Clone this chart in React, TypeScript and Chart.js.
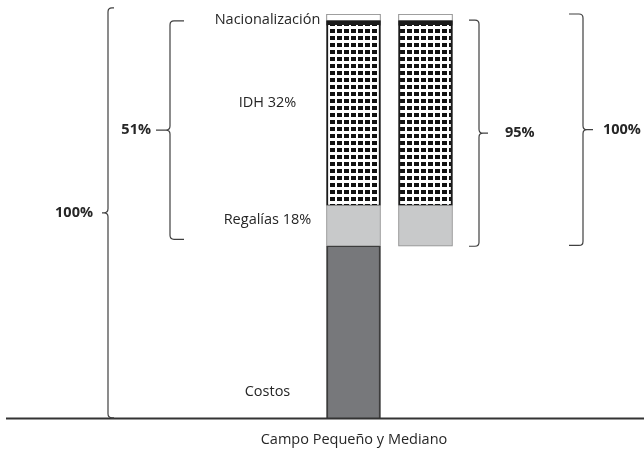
import React, { useEffect, useRef } from 'react';
import { Chart, registerables } from 'chart.js';

Chart.register(...registerables);

// ---- data ----
const categories = ['Campo', 'Estado'];
const costos = [42.6, null];
const baseEstado = [null, 42.6];
const regalias = [10.1, 10.1];
const idh = [44.6, 44.6];
const nacionalizacion = [1.0, 1.0];
const resto = [1.7, 1.7];

const segmentLabels = ['Nacionalización', 'IDH 32%', 'Regalías 18%', 'Costos'];
const segmentLabelY = [98.5, 78, 49, 6.7];

const braceLabels = ['100%', '51%', '95%', '100%'];
const braceTop = [101.5, 98.3, 98.5, 100];
const braceBottom = [0.2, 44.3, 42.6, 42.8];

const xTitle = 'Campo Pequeño y Mediano';

// ---- layout / style (not data) ----
const FONT = '"Open Sans", sans-serif';
const braceGeom = [
  { x: 108, hook: 6, tick: 6, side: 'left', labelX: 93 },
  { x: 170, hook: 14, tick: 14, side: 'left', labelX: 151 },
  { x: 479, hook: 10, tick: 9, side: 'right', labelX: 505 },
  { x: 583, hook: 14, tick: 10, side: 'right', labelX: 603 },
];

function makePattern(ctx: CanvasRenderingContext2D) {
  const c = document.createElement('canvas');
  c.width = 7;
  c.height = 7;
  const p = c.getContext('2d')!;
  p.fillStyle = '#ffffff';
  p.fillRect(0, 0, 7, 7);
  p.fillStyle = '#111111';
  p.fillRect(1, 1, 5, 4);
  return ctx.createPattern(c, 'repeat');
}

function drawBrace(
  ctx: CanvasRenderingContext2D,
  x: number,
  yTop: number,
  yBot: number,
  side: string,
  hook: number,
  tick: number
) {
  const dir = side === 'left' ? 1 : -1;
  const r = 4;
  const yMid = (yTop + yBot) / 2;
  ctx.beginPath();
  ctx.moveTo(x + dir * hook, yTop);
  ctx.lineTo(x + dir * r, yTop);
  ctx.quadraticCurveTo(x, yTop, x, yTop + r);
  ctx.lineTo(x, yMid - r);
  ctx.quadraticCurveTo(x, yMid, x - dir * r, yMid);
  ctx.lineTo(x - dir * tick, yMid);
  ctx.moveTo(x - dir * r, yMid);
  ctx.quadraticCurveTo(x, yMid, x, yMid + r);
  ctx.lineTo(x, yBot - r);
  ctx.quadraticCurveTo(x, yBot, x + dir * r, yBot);
  ctx.lineTo(x + dir * hook, yBot);
  ctx.stroke();
}

const annotations = {
  id: 'annotations',
  afterDatasetsDraw(chart: any) {
    const { ctx, chartArea, scales } = chart;
    const xs = scales.x;
    const ys = scales.y;
    ctx.save();
    // baseline
    ctx.strokeStyle = '#333333';
    ctx.lineWidth = 2;
    ctx.beginPath();
    ctx.moveTo(6, chartArea.bottom);
    ctx.lineTo(chart.width, chartArea.bottom);
    ctx.stroke();

    // segment labels
    const barCenter = xs.getPixelForValue(0);
    ctx.fillStyle = '#262626';
    ctx.font = '14.5px ' + FONT;
    ctx.textAlign = 'center';
    ctx.textBaseline = 'middle';
    segmentLabels.forEach((t, i) => {
      ctx.fillText(t, barCenter - 86, ys.getPixelForValue(segmentLabelY[i]));
    });

    // braces
    ctx.strokeStyle = '#404040';
    ctx.lineWidth = 1.2;
    ctx.font = 'bold 14.5px ' + FONT;
    braceLabels.forEach((t, i) => {
      const g = braceGeom[i];
      const yT = ys.getPixelForValue(braceTop[i]);
      const yB = ys.getPixelForValue(braceBottom[i]);
      drawBrace(ctx, g.x, yT, yB, g.side, g.hook, g.tick);
      ctx.textAlign = g.side === 'left' ? 'right' : 'left';
      ctx.fillText(t, g.labelX, (yT + yB) / 2);
    });
    ctx.restore();
  },
};

export default function App() {
  const ref = useRef<HTMLCanvasElement>(null);
  useEffect(() => {
    const canvas = ref.current!;
    const ctx = canvas.getContext('2d')!;
    const pattern = makePattern(ctx);
    const pts = (arr: (number | null)[]) =>
      arr.map((v, i) => ({ x: i, y: v }));
    const common = { barThickness: 54, borderSkipped: false as const };
    const chart = new Chart(canvas, {
      type: 'bar',
      data: {
        labels: categories,
        datasets: [
          {
            label: 'Costos',
            data: pts(costos) as any,
            backgroundColor: '#77787b',
            borderColor: '#3c3c3c',
            borderWidth: { left: 2, right: 2, top: 1, bottom: 0 },
            ...common,
          },
          {
            label: 'Base',
            data: pts(baseEstado) as any,
            backgroundColor: 'rgba(0,0,0,0)',
            borderWidth: 0,
            ...common,
          },
          {
            label: 'Regalías',
            data: pts(regalias) as any,
            backgroundColor: '#c8c9ca',
            borderColor: '#8a8a8a',
            borderWidth: 1,
            ...common,
          },
          {
            label: 'IDH',
            data: pts(idh) as any,
            backgroundColor: pattern as any,
            borderColor: '#1a1a1a',
            borderWidth: { left: 2, right: 2, top: 0, bottom: 1 },
            ...common,
          },
          {
            label: 'Nacionalización',
            data: pts(nacionalizacion) as any,
            backgroundColor: '#1a1a1a',
            borderWidth: 0,
            ...common,
          },
          {
            label: 'Otros',
            data: pts(resto) as any,
            backgroundColor: '#ffffff',
            borderColor: '#7f7f7f',
            borderWidth: 1,
            ...common,
          },
        ],
      },
      options: {
        animation: false,
        responsive: true,
        maintainAspectRatio: false,
        layout: { padding: { left: 64, right: 0, top: 14, bottom: 4 } },
        plugins: { legend: { display: false }, tooltip: { enabled: false } },
        scales: {
          x: {
            type: 'linear',
            stacked: true,
            offset: false,
            min: -4.021,
            max: 4.035,
            grid: { display: false, drawTicks: false },
            border: { display: false },
            ticks: { display: false },
            title: {
              display: true,
              text: xTitle,
              color: '#262626',
              font: { family: FONT, size: 14.5 },
              padding: { top: 13, bottom: 0 },
            },
          },
          y: {
            stacked: true,
            display: false,
            min: 0,
            max: 100,
          },
        },
      },
      plugins: [annotations],
    });
    return () => chart.destroy();
  }, []);
  return (
    <div style={{ position: 'absolute', left: 0, top: 0, width: 644, height: 453, background: '#fff' }}>
      <canvas ref={ref} />
    </div>
  );
}
